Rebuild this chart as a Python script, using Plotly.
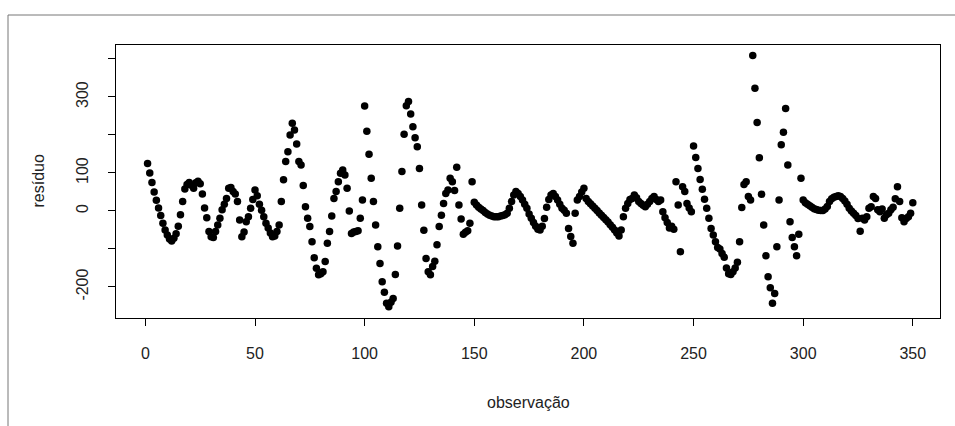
import plotly.graph_objects as go

residuo = [
    125, 100, 75, 50, 28, 8, -12, -32, -50, -63,
    -74, -79, -72, -60, -40, -10, 25, 58, 70, 75,
    68, 60, 74, 78, 72, 45, 8, -18, -54, -68,
    -70, -54, -37, -19, 3, 18, 33, 60, 62, 51,
    45, 25, -24, -68, -55, -28, -15, 7, 30, 55,
    40, 18, 2, -15, -32, -45, -58, -68, -66, -54,
    -37, 25, 82, 130, 156, 200, 231, 213, 176, 130,
    121, 67, 11, -19, -41, -81, -123, -151, -168, -165,
    -160, -133, -85, -54, -13, 33, 51, 77, 99, 108,
    95, 60, 0, -59, -55, -54, -52, -19, 29, 276,
    210, 149, 86, 25, -37, -94, -138, -186, -214, -243,
    -252, -240, -230, -167, -92, 7, 104, 202, 277, 288,
    255, 222, 193, 169, 112, 16, -51, -125, -160, -168,
    -146, -132, -89, -41, -11, 20, 46, 55, 86, 77,
    54, 115, 16, -21, -61, -56, -52, -32, 77, 23,
    16, 10, 5, 1, -4, -8, -11, -13, -15, -15,
    -15, -13, -12, -10, -6, 7, 25, 42, 51, 46,
    38, 29, 18, 7, -8, -19, -30, -40, -48, -50,
    -40, -20, 10, 30, 42, 46, 38, 29, 18, 7,
    2, -6, -46, -67, -85, -6, 29, 38, 50, 60,
    33, 25, 19, 13, 7, 1, -5, -11, -17, -23,
    -29, -36, -43, -50, -58, -66, -50, -15, 7, 20,
    30, 33, 42, 35, 25, 20, 15, 11, 18, 25,
    33, 38, 30, 25, 29, -2, -18, -30, -45, -40,
    -48, 77, 16, -107, 64, 51, 20, 8, -2, 171,
    141, 112, 83, 57, 31, 7, -19, -46, -63, -81,
    -96, -100, -112, -122, -150, -165, -167, -160, -150, -135,
    -81, 9, 70, 77, 38, 29, 409, 323, 233, 140,
    44, -37, -118, -173, -202, -243, -217, -94, 29, 174,
    207, 270, 121, -28, -70, -94, -118, -61, 86, 29,
    22, 18, 14, 10, 6, 4, 2, 1, 1, 5,
    12, 25, 32, 36, 38, 40, 38, 33, 26, 18,
    7, 0, -6, -12, -20, -53, -19, -24, -15, 7,
    11, 38, 33, 3, -2, 5, -19, -10, -6, 3,
    10, 32, 64, 25, -18, -28, -20, -15, -6, 22,
]
observacao = list(range(1, len(residuo) + 1))

x_ticks = [0, 50, 100, 150, 200, 250, 300, 350]
y_ticks = [-200, -100, 0, 100, 200, 300, 400]
y_ticktext = ["-200", "", "0", "100", "", "300", ""]

FONT = "Liberation Sans, Arial, sans-serif"

fig = go.Figure(
    go.Scatter(
        x=observacao,
        y=residuo,
        mode="markers",
        marker=dict(color="black", size=7.5, line=dict(width=0)),
        hoverinfo="skip",
    )
)

W, H = 955, 426
L, R, T, B = 116, 15, 45, 108
pw, ph = W - L - R, H - T - B


def px(xp):
    return (xp - L) / pw


def py(yp):
    return (H - B - yp) / ph


fig.update_layout(
    width=W,
    height=H,
    margin=dict(l=L, r=R, t=T, b=B, pad=0),
    paper_bgcolor="white",
    plot_bgcolor="white",
    showlegend=False,
    font=dict(family=FONT, size=16, color="#222222"),
    xaxis=dict(
        range=[-13.4, 362.4],
        tickvals=x_ticks,
        ticks="outside",
        ticklen=7,
        tickcolor="black",
        showline=True,
        mirror=True,
        linecolor="black",
        linewidth=1,
        showgrid=False,
        zeroline=False,
        ticklabelstandoff=14,
        tickfont=dict(size=16),
    ),
    yaxis=dict(
        range=[-281.6, 436.8],
        tickvals=y_ticks,
        ticktext=y_ticktext,
        tickangle=-90,
        ticks="outside",
        ticklen=7,
        tickcolor="black",
        showline=True,
        mirror=True,
        linecolor="black",
        linewidth=1,
        showgrid=False,
        zeroline=False,
        ticklabelstandoff=14,
        tickfont=dict(size=16),
    ),
    annotations=[
        dict(
            text="observação",
            xref="paper",
            yref="paper",
            x=0.5,
            y=py(402),
            showarrow=False,
            xanchor="center",
            yanchor="middle",
            font=dict(size=16),
        ),
        dict(
            text="resíduo",
            xref="paper",
            yref="paper",
            x=px(38),
            y=0.5,
            showarrow=False,
            textangle=-90,
            xanchor="center",
            yanchor="middle",
            font=dict(size=16),
        ),
    ],
    shapes=[
        dict(type="line", xref="paper", yref="paper",
             x0=px(8), x1=px(W + 2), y0=py(15), y1=py(15),
             line=dict(color="#777777", width=1)),
        dict(type="line", xref="paper", yref="paper",
             x0=px(8), x1=px(8), y0=py(15), y1=py(H + 2),
             line=dict(color="#777777", width=1)),
    ],
)

fig.write_html(
    "out.html",
    config={"displayModeBar": False},
    post_script="document.body.style.margin='0';document.body.style.overflow='hidden';",
)
